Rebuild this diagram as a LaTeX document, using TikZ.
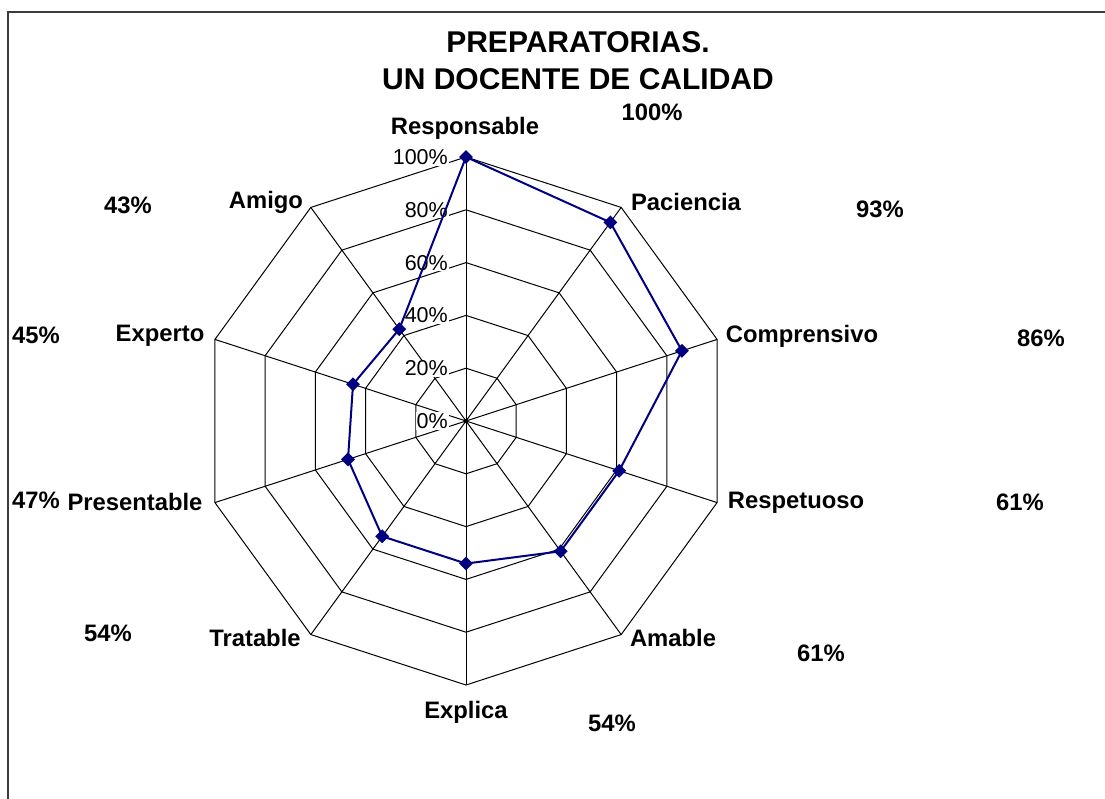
\documentclass[tikz,border=0pt]{standalone}
\usepackage{fontspec}
\setmainfont{Liberation Sans}
\usetikzlibrary{shapes.geometric}
\definecolor{navy}{RGB}{0,0,128}
\definecolor{framec}{RGB}{60,60,60}
\begin{document}
\begin{tikzpicture}[x=1pt,y=-1pt,
  grid/.style={black,line width=1pt,line join=miter},
  serie/.style={draw=navy,line width=2pt,line join=round},
  mk/.style={diamond,fill=navy,inner sep=0pt,minimum size=14pt},
  lbl/.style={font=\fontsize{23.8}{26}\selectfont\bfseries,inner sep=0pt},
  pct/.style={font=\fontsize{23.8}{26}\selectfont\bfseries,inner sep=0pt},
  tick/.style={font=\fontsize{21.5}{24}\selectfont,anchor=east,fill=white,inner sep=1pt},
  ttl/.style={font=\fontsize{30}{37}\selectfont\bfseries,align=center,inner sep=0pt}]
\useasboundingbox (0,0) rectangle (1105,799);
\fill[white] (0,0) rectangle (1105,799);
\draw[framec,line width=1.4pt] (8,799) -- (8,12) -- (1105,12);

\node[ttl] (title) at (578,61) {PREPARATORIAS.\\UN DOCENTE DE CALIDAD};

\begin{scope}[shift={(466,421)}]
  \coordinate (O) at (0,0);
  \foreach \i in {0,...,9} \coordinate (ax\i) at ({36*\i-90}:264);
  \foreach \k in {1,...,5}{
    \pgfmathsetmacro{\r}{52.8*\k}
    \draw[grid] (-90:\r) \foreach \i in {1,...,9}{ -- ({36*\i-90}:\r)} -- cycle;
  }
  \foreach \i in {0,...,9} \draw[grid] (O) -- (ax\i);
  \fill (O) circle (2.2pt);
\end{scope}

\foreach \k/\t in {0/0,1/20,2/40,3/60,4/80,5/100}
  \node[tick] (t\k) at (449,{421-52.8*\k}) {\t\%};

\begin{scope}[shift={(466,421)}]
  \foreach \v [count=\i from 0] in {100,93,86,61,61,54,54,47,45,43}
    \coordinate (d\i) at ({36*\i-90}:{2.64*\v});
  \draw[serie] (d0) -- (d1) -- (d2) -- (d3) -- (d4) -- (d5) -- (d6) -- (d7) -- (d8) -- (d9) -- cycle;
  \foreach \i in {0,...,9} \node[mk] (p\i) at (d\i) {};
\end{scope}

\node[lbl] (lResponsable) at (465,128) {Responsable};
\node[lbl] (lPaciencia) at (686,202) {Paciencia};
\node[lbl] (lComprensivo) at (802,336) {Comprensivo};
\node[lbl] (lRespetuoso) at (796,503) {Respetuoso};
\node[lbl] (lAmable) at (673,638) {Amable};
\node[lbl] (lExplica) at (466,712) {Explica};
\node[lbl] (lTratable) at (255,638) {Tratable};
\node[lbl] (lPresentable) at (135,502) {Presentable};
\node[lbl] (lExperto) at (160,336) {Experto};
\node[lbl] (lAmigo) at (266,202) {Amigo};

\node[pct] (v0) at (652,112) {100\%};
\node[pct] (v1) at (880,209) {93\%};
\node[pct] (v2) at (1041,338) {86\%};
\node[pct] (v3) at (1020,502) {61\%};
\node[pct] (v4) at (821,653) {61\%};
\node[pct] (v5) at (612,723) {54\%};
\node[pct] (v6) at (108,633) {54\%};
\node[pct] (v7) at (36,500) {47\%};
\node[pct] (v8) at (36,335) {45\%};
\node[pct] (v9) at (128,205) {43\%};
\end{tikzpicture}
\end{document}
